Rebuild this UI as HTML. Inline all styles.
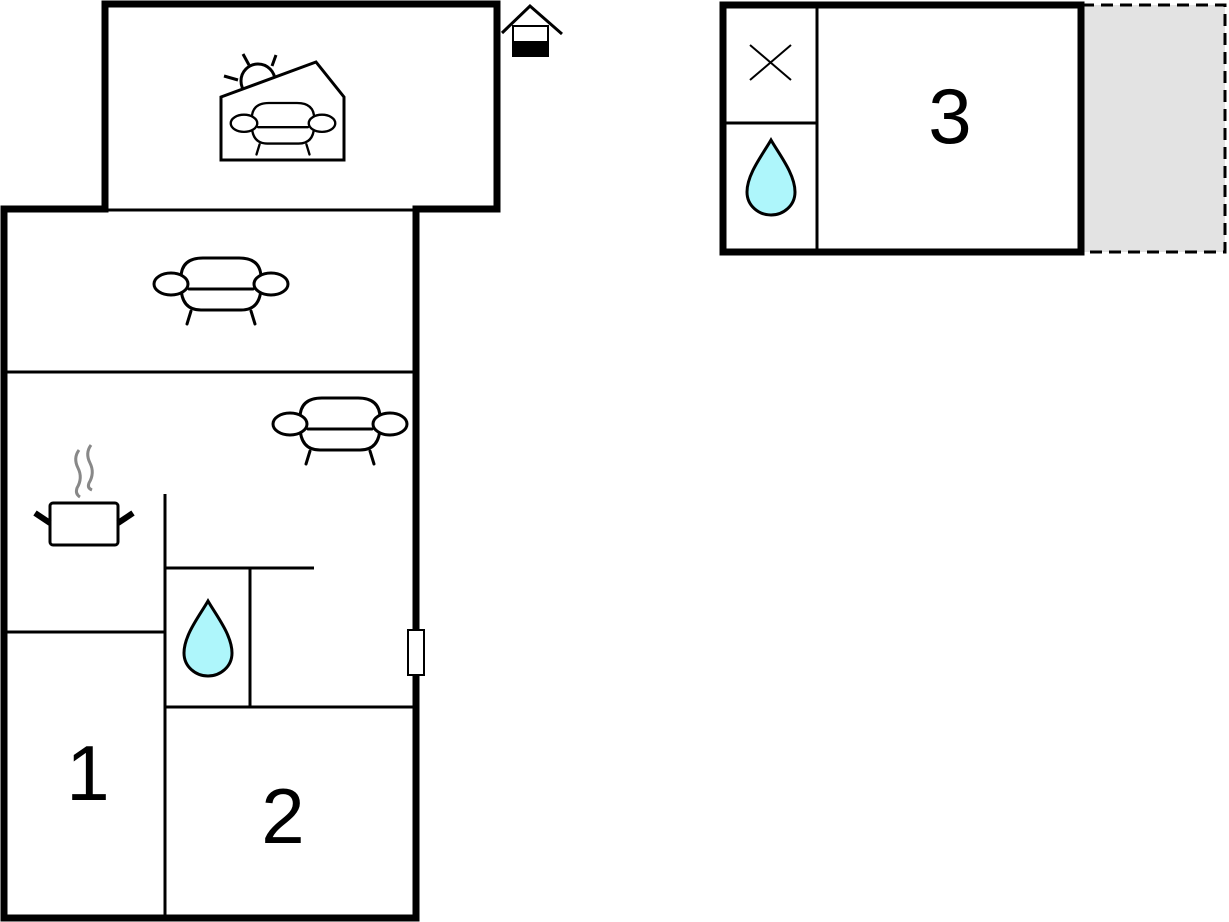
<!DOCTYPE html>
<html><head><style>html,body{margin:0;padding:0;background:#fff}svg{display:block}</style></head>
<body>
<svg width="1229" height="922" viewBox="0 0 1229 922" xmlns="http://www.w3.org/2000/svg">
<defs>
<g id="sofa" fill="none" stroke="#000" stroke-width="3" stroke-linecap="round">
  <path d="M-40 20 Q-40 0 -18 0 H18 Q40 0 40 20" fill="#fff"/>
  <path d="M-40 28 Q-40 52 -20 52 H20 Q40 52 40 28" fill="#fff"/>
  <path d="M-40 20 V32 M40 20 V32"/>
  <line x1="-32" y1="31" x2="32" y2="31"/>
  <ellipse cx="-50" cy="26" rx="17" ry="11" fill="#fff"/>
  <ellipse cx="50" cy="26" rx="17" ry="11" fill="#fff"/>
  <line x1="-30" y1="53" x2="-34" y2="66"/>
  <line x1="30" y1="53" x2="34" y2="66"/>
</g>
<path id="drop" d="M0 0 C-8 14 -24 34 -24 52 C-24 66 -12 75 0 75 C12 75 24 66 24 52 C24 34 8 14 0 0 Z" fill="#aef6fb" stroke="#000" stroke-width="3"/>
</defs>

<!-- main walls -->
<g fill="none" stroke="#000" stroke-width="7" stroke-linejoin="miter">
  <path d="M4 918 V209 H105 V4 H497 V209 H416 V918 Z"/>
</g>
<!-- thin walls -->
<g stroke="#000" stroke-width="3" fill="none">
  <line x1="105" y1="210" x2="416" y2="210"/>
  <line x1="4" y1="372" x2="416" y2="372"/>
  <line x1="165" y1="494" x2="165" y2="918"/>
  <line x1="4" y1="632" x2="165" y2="632"/>
  <line x1="165" y1="568" x2="314" y2="568"/>
  <line x1="250" y1="568" x2="250" y2="707"/>
  <line x1="165" y1="707" x2="416" y2="707"/>
</g>
<!-- door -->
<rect x="408" y="630" width="16" height="45" fill="#fff" stroke="#000" stroke-width="2"/>

<!-- sun/house icon -->
<g stroke="#000" stroke-width="3" fill="none">
  <circle cx="258" cy="81" r="17" fill="#fff"/>
  <line x1="243" y1="54" x2="249" y2="65"/>
  <line x1="276" y1="55" x2="272" y2="66"/>
  <line x1="224" y1="76" x2="238" y2="80"/>
  <path d="M221 97 L316 62 L344 97 V160 H221 Z" fill="#fff"/>
</g>
<use href="#sofa" transform="translate(283,103) scale(0.78)"/>

<!-- small house icon -->
<g stroke="#000" fill="none">
  <path d="M502 33 L530 6 L562 34" stroke-width="3"/>
  <rect x="513" y="26" width="35" height="30" fill="#fff" stroke-width="2"/>
  <rect x="512" y="41" width="37" height="16" fill="#000" stroke="none"/>
</g>

<use href="#sofa" transform="translate(221,258)"/>
<use href="#sofa" transform="translate(340,398)"/>

<!-- pot -->
<g stroke="#000" fill="none">
  <rect x="50" y="503" width="68" height="42" rx="3" fill="#fff" stroke-width="3"/>
  <line x1="35" y1="513" x2="50" y2="523" stroke-width="6"/>
  <line x1="133" y1="513" x2="118" y2="523" stroke-width="6"/>
  <path d="M79 450 Q73 458 78 468 Q83 478 77 488 Q75 494 80 497" stroke="#888" stroke-width="3"/>
  <path d="M91 445 Q85 453 90 463 Q95 473 89 483 Q87 488 92 490" stroke="#888" stroke-width="3"/>
</g>
<use href="#drop" transform="translate(208,601)"/>

<!-- right building -->
<rect x="1082" y="5" width="143" height="247" fill="#e3e3e3" stroke="#000" stroke-width="3" stroke-dasharray="12,7"/>
<rect x="723" y="5" width="358" height="247" fill="#fff" stroke="#000" stroke-width="7"/>
<g stroke="#000" stroke-width="3">
  <line x1="817" y1="5" x2="817" y2="252"/>
  <line x1="723" y1="123" x2="817" y2="123"/>
</g>
<g stroke="#000" stroke-width="2">
  <line x1="750" y1="45" x2="791" y2="80"/>
  <line x1="791" y1="45" x2="750" y2="80"/>
</g>
<use href="#drop" transform="translate(771,140)"/>

<!-- labels -->
<g font-family="Liberation Sans, sans-serif" font-size="78" fill="#000" text-anchor="middle">
  <text x="88" y="800">1</text>
  <text x="283" y="843">2</text>
  <text x="950" y="143">3</text>
</g>
</svg>
</body></html>
